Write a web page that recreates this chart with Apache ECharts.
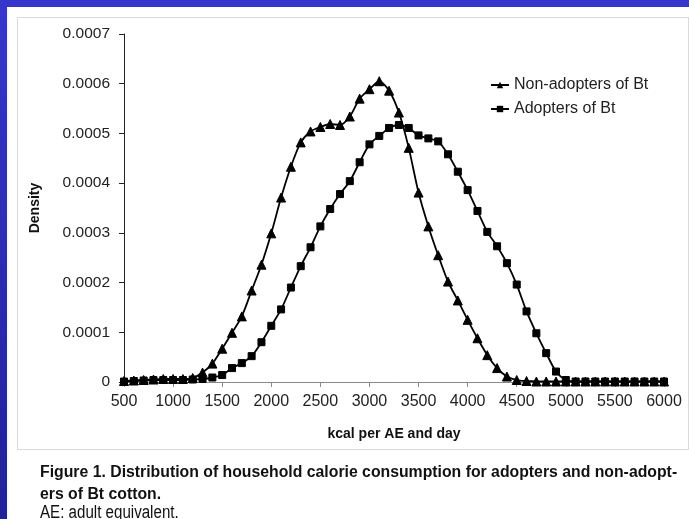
<!DOCTYPE html>
<html>
<head>
<meta charset="utf-8">
<script src="https://cdn.jsdelivr.net/npm/echarts@6/dist/echarts.min.js"></script>
<style>
  html, body { margin: 0; padding: 0; }
  #frame { position: absolute; left: 0; top: 0; width: 689px; height: 519px;
           background: linear-gradient(to bottom, #3636cc, #21219a); overflow: hidden; }
  #panel { position: absolute; left: 7px; top: 7px; right: 0; bottom: 0; background: #fff; }
  #box { position: absolute; left: 17px; top: 17px; width: 670px; height: 431px;
         border: 1px solid #dadada; }
  #chart { position: absolute; left: 0; top: 0; width: 689px; height: 519px; }
</style>
</head>
<body>
<div id="frame">
  <div id="panel"></div>
  <div id="box"></div>
  <div id="chart"></div>
</div>
<script>
// Household calorie consumption (kcal per adult equivalent and day)
const kcal = [500, 600, 700, 800, 900, 1000, 1100, 1200, 1300, 1400,
  1500, 1600, 1700, 1800, 1900, 2000, 2100, 2200, 2300, 2400,
  2500, 2600, 2700, 2800, 2900, 3000, 3100, 3200, 3300, 3400,
  3500, 3600, 3700, 3800, 3900, 4000, 4100, 4200, 4300, 4400,
  4500, 4600, 4700, 4800, 4900, 5000, 5100, 5200, 5300, 5400,
  5500, 5600, 5700, 5800, 5900, 6000];

// Kernel density, non-adopters of Bt cotton
const nonAdopters = [0.000002, 0.000003, 0.000004, 0.000005, 0.000006, 0.000006, 0.000006, 0.000008, 0.000019, 0.000037,
  0.000067, 0.000099, 0.000132, 0.000184, 0.000236, 0.000299, 0.000371, 0.000433, 0.000482, 0.000504,
  0.000513, 0.000519, 0.000517, 0.000534, 0.000570, 0.000589, 0.000605, 0.000586, 0.000542, 0.000471,
  0.000381, 0.000313, 0.000255, 0.000202, 0.000164, 0.000125, 0.000088, 0.000054, 0.000028, 0.000011,
  0.000004, 0.000002, 0.000001, 0.000001, 0.000001, 0.000001, 0.000001, 0.000001, 0.000001, 0.000001,
  0.000001, 0.000001, 0.000001, 0.000001, 0.000001, 0.000001];

// Kernel density, adopters of Bt cotton
const adopters = [0.000001, 0.000002, 0.000003, 0.000004, 0.000004, 0.000004, 0.000004, 0.000005, 0.000006, 0.000009,
  0.000014, 0.000028, 0.000038, 0.000052, 0.000080, 0.000113, 0.000146, 0.000190, 0.000233, 0.000271,
  0.000313, 0.000348, 0.000378, 0.000404, 0.000442, 0.000478, 0.000495, 0.000511, 0.000517, 0.000511,
  0.000496, 0.000490, 0.000484, 0.000458, 0.000423, 0.000386, 0.000344, 0.000302, 0.000273, 0.000239,
  0.000196, 0.000142, 0.000098, 0.000058, 0.000021, 0.000004, 0.000001, 0.000001, 0.000001, 0.000001,
  0.000001, 0.000001, 0.000001, 0.000001, 0.000001, 0.000001];

const xTickLabels = ['500', '1000', '1500', '2000', '2500', '3000', '3500', '4000', '4500', '5000', '5500', '6000'];
const yTickLabels = ['0', '0.0001', '0.0002', '0.0003', '0.0004', '0.0005', '0.0006', '0.0007'];

const seriesNames = ['Non-adopters of Bt', 'Adopters of Bt'];
const captionLines = [
  'Figure 1. Distribution of household calorie consumption for adopters and non-adopt-',
  'ers of Bt cotton.'
];
const noteLine = 'AE: adult equivalent.';

const pairs = (ys) => kcal.map((x, i) => [x, ys[i]]);

const tickFont = 'Liberation Sans, Arial, sans-serif';
const chart = echarts.init(document.getElementById('chart'), null, { renderer: 'canvas' });

chart.setOption({
  backgroundColor: 'transparent',
  animation: false,
  grid: { left: 124, right: 25, top: 34, bottom: 137, containLabel: false },
  legend: {
    orient: 'vertical',
    left: 485,
    top: 72,
    itemWidth: 18,
    itemHeight: 8,
    itemGap: 8,
    textStyle: { fontFamily: tickFont, fontSize: 16, color: '#222' },
    data: seriesNames
  },
  xAxis: {
    type: 'value',
    min: 500,
    max: 6000,
    interval: 500,
    name: 'kcal per AE and day',
    nameLocation: 'middle',
    nameGap: 45,
    nameTextStyle: { fontFamily: tickFont, fontSize: 14, fontWeight: 'bold', color: '#111' },
    axisLine: { lineStyle: { color: '#8a8a8a', width: 1 } },
    axisTick: { show: true, inside: false, length: 5, lineStyle: { color: '#8a8a8a' } },
    axisLabel: {
      margin: 12, fontFamily: tickFont, fontSize: 16, color: '#222',
      formatter: (v) => xTickLabels[Math.round((v - 500) / 500)]
    },
    splitLine: { show: false }
  },
  yAxis: {
    type: 'value',
    min: 0,
    max: 0.0007,
    interval: 0.0001,
    name: 'Density',
    nameLocation: 'middle',
    nameGap: 82,
    nameRotate: 90,
    nameTextStyle: { fontFamily: tickFont, fontSize: 14, fontWeight: 'bold', color: '#111' },
    axisLine: { show: true, lineStyle: { color: '#222', width: 1 } },
    axisTick: { show: true, inside: false, length: 5, lineStyle: { color: '#222' } },
    axisLabel: {
      margin: 14, fontFamily: tickFont, fontSize: 15.5, color: '#222',
      formatter: (v) => yTickLabels[Math.round(v / 0.0001)]
    },
    splitLine: { show: false }
  },
  series: [
    {
      name: seriesNames[0],
      type: 'line',
      data: pairs(nonAdopters),
      smooth: 0.25,
      symbol: 'triangle',
      symbolSize: 9,
      showAllSymbol: true,
      lineStyle: { color: '#000', width: 1.8 },
      itemStyle: { color: '#000', borderColor: '#000' },
      z: 3
    },
    {
      name: seriesNames[1],
      type: 'line',
      data: pairs(adopters),
      smooth: 0.25,
      symbol: 'rect',
      symbolSize: 7,
      showAllSymbol: true,
      lineStyle: { color: '#000', width: 1.8 },
      itemStyle: { color: '#000', borderColor: '#000' },
      z: 2
    }
  ],
  graphic: [
    {
      type: 'text', left: 40, top: 465,
      style: { text: captionLines[0], font: 'bold 15.8px Liberation Sans, Arial, sans-serif', fill: '#111' }
    },
    {
      type: 'text', left: 40, top: 487,
      style: { text: captionLines[1], font: 'bold 15.8px Liberation Sans, Arial, sans-serif', fill: '#111' }
    },
    {
      type: 'text', x: 40, y: 504, scaleX: 0.84,
      style: { text: noteLine, font: '18px Liberation Sans, Arial, sans-serif', fill: '#111' }
    }
  ]
});
</script>
</body>
</html>
